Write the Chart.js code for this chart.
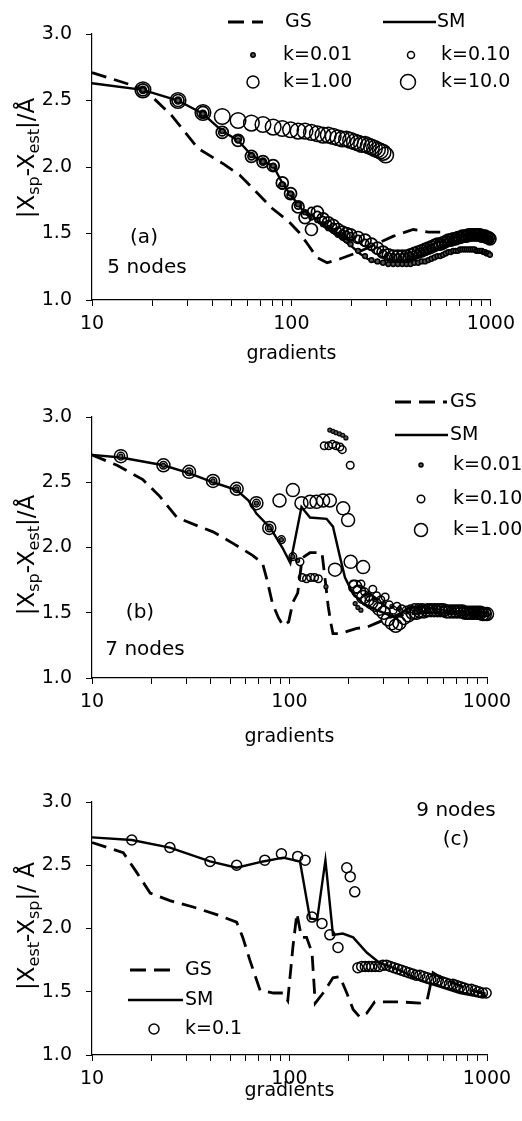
<!DOCTYPE html>
<html><head><meta charset="utf-8">
<script src="https://cdn.jsdelivr.net/npm/chart.js@4.4.1/dist/chart.umd.min.js"></script>
<style>
html,body{margin:0;padding:0;background:#fff;width:522px;height:1121px;overflow:hidden}
canvas{position:absolute;left:0}
</style></head><body>
<canvas id="ca" width="522" height="372" style="top:0px;width:522px;height:372px"></canvas>
<canvas id="cb" width="522" height="376" style="top:372px;width:522px;height:376px"></canvas>
<canvas id="cc" width="522" height="373" style="top:748px;width:522px;height:373px"></canvas>
<script>
// ---------- tick values ----------
const xTickValues = [10,20,30,40,50,60,70,80,90,100,200,300,400,500,600,700,800,900,1000];
const xTickLabels = [10,100,1000];
const yTickValues = [1.0,1.5,2.0,2.5,3.0];

// ---------- panel (a): 5 nodes ----------
const gsA_x = [10,15.5,18.4,25,34,46,55,65,80,97,109,122,134,151,176,217,274,325,408,487,563];
const gsA_y = [2.71,2.62,2.58,2.39,2.14,2.02,1.94,1.83,1.69,1.59,1.51,1.41,1.32,1.28,1.31,1.36,1.43,1.48,1.53,1.51,1.51];
const smA_x = [10,18,27,36,45,54,63,72,81,90,99,108,117,126,135,153,171,198,220,240,270,320,400,480,560,650,750,850,1000];
const smA_y = [2.63,2.58,2.50,2.40,2.27,2.20,2.09,2.04,2.01,1.88,1.79,1.72,1.65,1.62,1.60,1.53,1.48,1.41,1.35,1.31,1.28,1.27,1.27,1.30,1.34,1.37,1.38,1.37,1.34];
const gradA = [18,27,36,45,54,63,72,81,90,99,108,117,126,135,144,153,162,171,180,189,
  198,216,234,252,270,288,306,324,342,360,378,396,414,432,450,468,486,504,522,540,
  558,576,594,612,630,648,666,684,702,720,738,756,774,792,810,828,846,864,882,900,
  918,936,954,972,990];
const k001A = [2.58,2.50,2.40,2.27,2.20,2.09,2.04,2.01,1.87,1.80,1.72,1.66,1.62,1.60,1.57,1.54,1.52,1.49,1.47,1.45,
  1.42,1.37,1.33,1.30,1.29,1.28,1.27,1.27,1.27,1.27,1.27,1.27,1.28,1.28,1.29,1.29,1.30,1.31,1.32,1.33,
  1.33,1.34,1.35,1.36,1.36,1.37,1.37,1.37,1.38,1.38,1.38,1.38,1.38,1.38,1.38,1.38,1.37,1.37,1.37,1.37,
  1.36,1.36,1.35,1.35,1.34];
const k010A = [2.58,2.50,2.40,2.26,2.21,2.08,2.04,2.00,1.86,1.79,1.71,1.64,1.67,1.64,1.60,1.57,1.55,1.52,1.50,1.49,
  1.48,1.46,1.43,1.40,1.37,1.35,1.33,1.32,1.32,1.32,1.32,1.33,1.34,1.35,1.36,1.37,1.38,1.39,1.40,1.41,
  1.41,1.42,1.43,1.44,1.44,1.45,1.45,1.46,1.46,1.47,1.47,1.47,1.48,1.48,1.48,1.48,1.48,1.48,1.48,1.47,
  1.47,1.47,1.46,1.46,1.45];
const k100A = [2.58,2.50,2.41,2.26,2.20,2.08,2.04,2.01,1.88,1.80,1.70,1.62,1.53,1.66,1.61,1.58,1.56,1.53,1.51,1.50,
  1.49,1.47,1.45,1.42,1.39,1.36,1.34,1.33,1.33,1.33,1.33,1.34,1.35,1.36,1.37,1.38,1.39,1.40,1.41,1.42,
  1.42,1.43,1.44,1.45,1.45,1.46,1.46,1.47,1.47,1.48,1.48,1.48,1.49,1.49,1.49,1.49,1.49,1.49,1.49,1.48,
  1.48,1.48,1.47,1.47,1.46];
const gradA10 = [18,27,36,45,54,63,72,81,90,99,108,117,126,135,144,153,162,171,180,189,198,207,216,225,234,243,252,261,270,279,288,297];
const k10A = [2.58,2.50,2.41,2.38,2.35,2.33,2.32,2.30,2.29,2.28,2.27,2.27,2.26,2.25,2.24,2.24,2.23,2.22,2.21,2.21,2.20,2.19,2.18,2.17,2.17,2.16,2.15,2.14,2.13,2.12,2.11,2.09];

// ---------- panel (b): 7 nodes ----------
const gsB_x = [10,13.4,18.1,22.1,26.9,35,41,52,65,73,77,82,88,93,99,104,110,116,127,146,153,157,162,166,180,219,247,285,330,400,500,650,800,1000];
const gsB_y = [2.71,2.63,2.52,2.39,2.23,2.16,2.12,2.03,1.94,1.88,1.75,1.57,1.46,1.40,1.43,1.58,1.65,1.92,1.96,1.96,1.70,1.55,1.42,1.34,1.34,1.38,1.39,1.43,1.47,1.49,1.50,1.50,1.50,1.50];
const smB_x = [10,14,23,31,41,54,62,68,80,92,101,115,127,154,166,180,191,209,236,277,334,370,410,497,600,750,1000];
const smB_y = [2.71,2.69,2.63,2.57,2.50,2.44,2.36,2.26,2.15,2.00,1.88,2.31,2.23,2.22,2.16,1.93,1.77,1.65,1.57,1.52,1.47,1.50,1.54,1.54,1.52,1.51,1.50];
const k001B_x = [14,23,31,41,54,68,79,91,104,110,153,160,166,172,179,186,193,215,222,230,
  250,270,300,330,360,400,450,500,550,600,650,700,750,800,850,900,950,1000];
const k001B_y = [2.70,2.63,2.58,2.51,2.45,2.34,2.15,2.06,1.93,1.90,1.70,2.90,2.89,2.88,2.87,2.86,2.84,1.57,1.54,1.52,
  1.64,1.60,1.57,1.55,1.53,1.52,1.52,1.51,1.51,1.51,1.50,1.50,1.50,1.50,1.50,1.50,1.49,1.49];
const k010B_x = [14,23,31,41,54,68,79,91,104,113,116,122,128,134,140,150,158,165,172,180,185,203,
  210,220,230,240,252,264,276,290,305,320,335,350,370,390,410,430,450,470,490,510,530,555,580,605,630,660,690,720,750,780,810,840,870,900,930,960,1000];
const k010B_y = [2.70,2.63,2.58,2.51,2.45,2.34,2.15,2.06,1.93,1.89,1.77,1.76,1.77,1.77,1.76,2.78,2.78,2.79,2.78,2.77,2.75,2.63,
  1.72,1.68,1.72,1.66,1.62,1.68,1.63,1.60,1.62,1.56,1.52,1.55,1.53,1.52,1.53,1.54,1.54,1.54,1.53,1.53,1.53,1.53,1.52,1.52,1.52,1.52,1.52,1.51,1.51,1.51,1.51,1.50,1.50,1.50,1.50,1.50,1.50];
const k100B_x = [14,23,31,41,54,68,79,89,104,115,127,137,148,160,187,198,170,204,236,
  215,225,236,248,260,272,285,300,315,330,345,360,380,400,420,440,460,480,500,520,540,560,580,600,625,650,675,700,725,750,775,800,825,850,875,900,925,950,975,1000];
const k100B_y = [2.70,2.63,2.58,2.51,2.45,2.34,2.15,2.36,2.44,2.34,2.35,2.35,2.36,2.36,2.30,2.21,1.83,1.89,1.85,
  1.70,1.66,1.62,1.60,1.58,1.56,1.53,1.50,1.45,1.42,1.40,1.42,1.46,1.48,1.50,1.50,1.51,1.51,1.52,1.52,1.52,1.52,1.52,1.52,1.51,1.51,1.51,1.51,1.51,1.51,1.50,1.50,1.50,1.50,1.50,1.50,1.50,1.49,1.49,1.49];

// ---------- panel (c): 9 nodes ----------
const gsC_x = [10,14.4,16.9,19.7,24.8,32.5,42.8,54,58,63,71,83,93,98,104,109,115,122,130,135,148,166,180,195,210,227,246,270,362,457,497,533,600,700,800,1000];
const gsC_y = [2.68,2.60,2.44,2.28,2.22,2.17,2.11,2.05,1.93,1.75,1.51,1.49,1.49,1.43,1.85,2.12,1.93,1.93,1.81,1.41,1.49,1.61,1.62,1.49,1.36,1.30,1.33,1.42,1.42,1.41,1.43,1.65,1.60,1.56,1.52,1.48];
const smC_x = [10,15.9,24.8,39.6,54,73.5,93,113,127,138,152,166,186,210,246,285,362,457,576,730,920,1000];
const smC_y = [2.72,2.70,2.64,2.53,2.48,2.53,2.56,2.53,2.08,2.07,2.54,1.95,1.96,1.93,1.81,1.73,1.67,1.59,1.54,1.49,1.46,1.47];
const k01C_x = [15.9,24.8,39.6,54,75,91,110,120,130,146,160,176,195,203,214,
  222,232,242,252,261,272,285,297,310,324,338,353,369,385,402,420,438,457,477,498,520,543,567,592,618,645,673,702,733,765,798,833,870,908,948,990];
const k01C_y = [2.70,2.64,2.53,2.50,2.54,2.59,2.57,2.54,2.09,2.04,1.95,1.85,2.48,2.41,2.29,
  1.69,1.70,1.70,1.70,1.70,1.70,1.70,1.71,1.71,1.70,1.69,1.68,1.67,1.66,1.65,1.64,1.63,1.63,1.62,1.61,1.60,1.60,1.59,1.58,1.57,1.56,1.56,1.55,1.54,1.53,1.52,1.52,1.51,1.50,1.49,1.49];

// ---------- helpers ----------
const FONT = '"DejaVu Sans", sans-serif';
function pts(xs, ys){ return xs.map((x,i)=>({x:x, y:ys[i]})); }
function lineDS(label, xs, ys, dashed){
  return {label, data:pts(xs,ys), showLine:true, borderColor:'#000', backgroundColor:'#000',
    borderWidth: dashed?2.8:2.4, borderDash: dashed?[15,8]:[], pointRadius:0, pointHoverRadius:0,
    fill:false, tension:0, clip:false};
}
function markDS(label, xs, ys, r, filled, bw){
  return {label, data:pts(xs,ys), showLine:false, pointRadius:r, pointHoverRadius:r,
    pointBorderColor:'#000', pointBackgroundColor: filled?'#555':'rgba(0,0,0,0)',
    pointBorderWidth:bw||1.5, clip:false};
}

const decor = {
  id:'decor',
  afterDraw(chart, args, o){
    const ctx = chart.ctx;
    ctx.save();
    ctx.fillStyle = '#000'; ctx.strokeStyle = '#000';
    if (o.yTitle){
      const t = o.yTitle, main = t.size, sub = Math.round(t.size*0.7);
      ctx.save();
      ctx.translate(t.x, t.y); ctx.rotate(-Math.PI/2);
      ctx.textAlign = 'left'; ctx.textBaseline = 'alphabetic';
      let w = 0;
      t.parts.forEach(p=>{ ctx.font = (p[1]?sub:main)+'px '+FONT; w += ctx.measureText(p[0]).width; });
      let x = -w/2;
      t.parts.forEach(p=>{ ctx.font = (p[1]?sub:main)+'px '+FONT; ctx.fillText(p[0], x, p[1]? main*0.22 : 0); x += ctx.measureText(p[0]).width; });
      ctx.restore();
    }
    (o.legend||[]).forEach(it=>{
      if (it.type==='dash' || it.type==='line'){
        ctx.beginPath(); ctx.lineWidth = it.type==='dash'?2.8:2.4;
        ctx.setLineDash(it.type==='dash'?[16,8]:[]);
        ctx.moveTo(it.x1, it.y); ctx.lineTo(it.x2, it.y); ctx.stroke(); ctx.setLineDash([]);
      } else if (it.type==='mark'){
        ctx.beginPath(); ctx.lineWidth = 1.5; ctx.arc(it.x, it.y, it.r, 0, Math.PI*2);
        if (it.filled){ ctx.fillStyle='#555'; ctx.fill(); ctx.fillStyle='#000'; }
        ctx.stroke();
      }
      if (it.text){
        ctx.font = '19px '+FONT; ctx.textAlign='left'; ctx.textBaseline='middle';
        ctx.fillText(it.text, it.tx, it.y);
      }
    });
    (o.notes||[]).forEach(n=>{
      ctx.font = n.size+'px '+FONT; ctx.textAlign='center'; ctx.textBaseline='middle';
      ctx.fillText(n.text, n.x, n.y);
    });
    ctx.restore();
  }
};

function makeChart(id, cfg, datasets, decorOpts){
  const axisCommon = {
    grid:{display:true, drawOnChartArea:false, drawTicks:true, tickLength:6, color:'#000', tickColor:'#000', lineWidth:1},
    border:{display:true, color:'#000', width:1.2}
  };
  return new Chart(document.getElementById(id), {
    type:'scatter',
    data:{datasets},
    options:{
      responsive:false, animation:false, devicePixelRatio:1,
      layout:{padding:{top:cfg.top, right:522-cfg.right, bottom:0, left:0}},
      plugins:{legend:{display:false}, tooltip:{enabled:false}, title:{display:false}, decor:decorOpts},
      scales:{
        x:Object.assign({
          type:'logarithmic', min:10, max:1000,
          afterBuildTicks:s=>{ s.ticks = xTickValues.map(v=>({value:v})); },
          afterFit:s=>{ s.height = cfg.H - cfg.bottom; },
          ticks:{autoSkip:false, maxRotation:0, minRotation:0, padding:7, color:'#000', font:{family:FONT, size:19},
            callback:(v)=> xTickLabels.includes(v) ? String(v) : ''},
          title:{display:true, text:'gradients', color:'#000', font:{family:FONT, size:19}, padding:{top:0, bottom:cfg.tpad}}
        }, axisCommon),
        y:Object.assign({
          type:'linear', min:1, max:3,
          afterBuildTicks:s=>{ s.ticks = yTickValues.map(v=>({value:v})); },
          afterFit:s=>{ s.width = 92; },
          ticks:{padding:14, color:'#000', font:{family:FONT, size:19}, callback:(v)=>Number(v).toFixed(1)}
        }, axisCommon)
      }
    },
    plugins:[decor]
  });
}

const titleSpXest = [['|X',0],['sp',1],['-X',0],['est',1],['|/Å',0]];
const titleXestSp = [['|X',0],['est',1],['-X',0],['sp',1],['|/ Å',0]];

makeChart('ca', {H:372, top:34, bottom:300, right:493, tpad:7},
  [ markDS('k=10.0', gradA10, k10A, 7.8, false, 1.5),
    markDS('k=1.00', gradA, k100A, 6, false, 1.7),
    markDS('k=0.10', gradA, k010A, 3.5, false, 1.7),
    markDS('k=0.01', gradA, k001A, 2.4, true, 1.5),
    lineDS('GS', gsA_x, gsA_y, true),
    lineDS('SM', smA_x, smA_y, false) ],
  { yTitle:{x:34, y:158, size:23, parts:titleSpXest},
    legend:[
      {type:'dash', x1:228, x2:263, y:22, text:'GS', tx:285},
      {type:'line', x1:383, x2:436, y:22, text:'SM', tx:437},
      {type:'mark', x:253, y:55, r:2.2, filled:true, text:'k=0.01', tx:283},
      {type:'mark', x:411, y:55, r:3.5, text:'k=0.10', tx:441},
      {type:'mark', x:253, y:82, r:6, text:'k=1.00', tx:283},
      {type:'mark', x:408, y:82, r:7.5, text:'k=10.0', tx:441} ],
    notes:[{text:'(a)', x:144, y:238, size:20},{text:'5 nodes', x:147, y:268, size:20}] });

makeChart('cb', {H:376, top:45, bottom:306, right:487, tpad:0},
  [ markDS('k=1.00', k100B_x, k100B_y, 6.5, false, 1.5),
    markDS('k=0.10', k010B_x, k010B_y, 3.8, false, 1.5),
    markDS('k=0.01', k001B_x, k001B_y, 2, true, 1.2),
    lineDS('GS', gsB_x, gsB_y, true),
    lineDS('SM', smB_x, smB_y, false) ],
  { yTitle:{x:34, y:183, size:23, parts:titleSpXest},
    legend:[
      {type:'dash', x1:395, x2:447, y:30, text:'GS', tx:450},
      {type:'line', x1:395, x2:448, y:63, text:'SM', tx:450},
      {type:'mark', x:421, y:93, r:2, filled:true, text:'k=0.01', tx:453},
      {type:'mark', x:421, y:127, r:3.8, text:'k=0.10', tx:453},
      {type:'mark', x:421, y:158, r:6.5, text:'k=1.00', tx:453} ],
    notes:[{text:'(b)', x:140, y:241, size:20},{text:'7 nodes', x:145, y:278, size:20}] });

makeChart('cc', {H:373, top:54, bottom:307, right:487, tpad:19},
  [ markDS('k=0.1', k01C_x, k01C_y, 5, false, 1.5),
    lineDS('GS', gsC_x, gsC_y, true),
    lineDS('SM', smC_x, smC_y, false) ],
  { yTitle:{x:34, y:178, size:23, parts:titleXestSp},
    legend:[
      {type:'dash', x1:130, x2:173, y:222, text:'GS', tx:185},
      {type:'line', x1:128, x2:183, y:252, text:'SM', tx:185},
      {type:'mark', x:154, y:281, r:5, text:'k=0.1', tx:185} ],
    notes:[{text:'9 nodes', x:456, y:63, size:20},{text:'(c)', x:456, y:92, size:20}] });
</script></body></html>
